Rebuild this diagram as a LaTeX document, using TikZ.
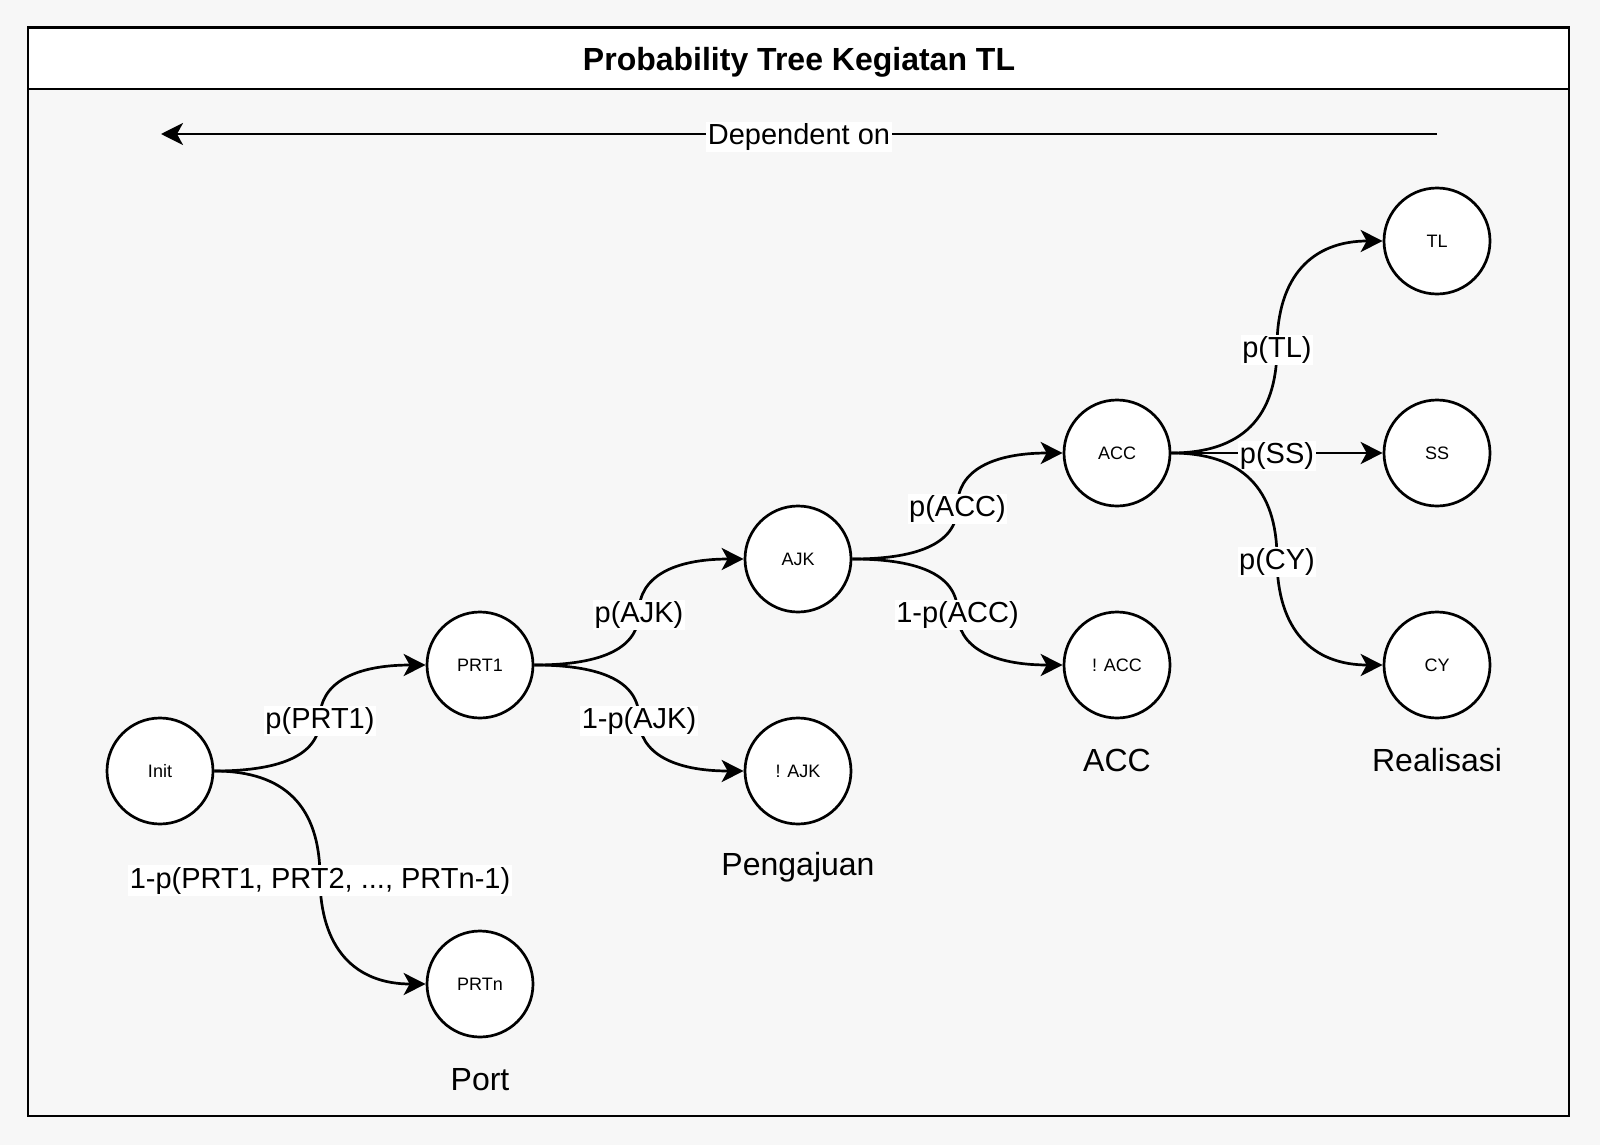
\documentclass[tikz,border=0pt]{standalone}
\usepackage{fontspec}
\setmainfont{Liberation Sans}
\usetikzlibrary{arrows.meta,calc}
\definecolor{bggray}{HTML}{F7F7F7}
\newcommand\curvedge[3]{%
  \coordinate (m#1#2) at ($(#1.east)!0.5!(#2.west)$);
  \draw[edge] (#1.east) .. controls ($(#1.east)!0.6667!(#1.east -| m#1#2)$) and ($(m#1#2)!0.6667!(#1.east -| m#1#2)$) .. (m#1#2)
     .. controls ($(m#1#2)!0.6667!(#2.west -| m#1#2)$) and ($(#2.west)!0.6667!(#2.west -| m#1#2)$) .. (#2.west);
  \node[elabel] (l#1#2) at (m#1#2) {#3};}
\begin{document}
\begin{tikzpicture}[x=1pt,y=-1pt,
  state/.style={circle,draw,line width=2.7pt,fill=white,minimum size=106pt,inner sep=0pt,font=\fontsize{18}{22}\selectfont},
  edge/.style={line width=2.7pt,-{Stealth[length=22pt,width=22pt,inset=6pt]}},
  elabel/.style={fill=white,inner sep=1.5pt,yshift=-3pt,font=\fontsize{29}{34}\selectfont},
  stage/.style={yshift=-3pt,font=\fontsize{32}{38}\selectfont}]
\fill[bggray] (0,0) rectangle (1600,1145);
\draw[line width=2.7pt,fill=bggray] (28,27.5) rectangle (1569,1116);
\draw[line width=2.7pt,fill=white] (28,27.5) rectangle (1569,89);
\node[yshift=-3pt,font=\bfseries\fontsize{32}{38}\selectfont] (title) at (799,59) {Probability Tree Kegiatan TL};
\coordinate (depR) at (1437,134);
\coordinate (depL) at (161,134);
\draw[edge] (depR) -- node[elabel] (dep) {Dependent on} (depL);
\node[state] (Init) at (160,771) {Init};
\node[state] (PRT1) at (480,665) {PRT1};
\node[state] (PRTn) at (480,984) {PRTn};
\node[state] (AJK) at (798,559) {AJK};
\node[state] (nAJK) at (798,771) {! AJK};
\node[state] (ACC) at (1117,453) {ACC};
\node[state] (nACC) at (1117,665) {! ACC};
\node[state] (TL) at (1437,241) {TL};
\node[state] (SS) at (1437,453) {SS};
\node[state] (CY) at (1437,665) {CY};
\curvedge{Init}{PRT1}{p(PRT1)}
\curvedge{Init}{PRTn}{1-p(PRT1, PRT2, ..., PRTn-1)}
\curvedge{PRT1}{AJK}{p(AJK)}
\curvedge{PRT1}{nAJK}{1-p(AJK)}
\curvedge{AJK}{ACC}{p(ACC)}
\curvedge{AJK}{nACC}{1-p(ACC)}
\curvedge{ACC}{TL}{p(TL)}
\curvedge{ACC}{SS}{p(SS)}
\curvedge{ACC}{CY}{p(CY)}
\node[stage] (sPort) at (480,1077) {Port};
\node[stage] (sPeng) at (798,864) {Pengajuan};
\node[stage] (sACC) at (1117,757) {ACC};
\node[stage] (sReal) at (1437,757) {Realisasi};
\end{tikzpicture}
\end{document}
